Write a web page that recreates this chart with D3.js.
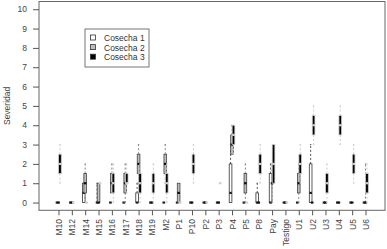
<!DOCTYPE html>
<html><head><meta charset="utf-8">
<script src="https://cdn.jsdelivr.net/npm/d3@7"></script>
<style>body{margin:0;background:#fff}svg{display:block}text{font-family:"Liberation Sans",Arial,sans-serif}</style>
</head><body>
<script>
const categories = ["M10","M12","M14","M15","M16","M17","M18","M19","M2","P1","P10","P2","P3","P4","P5","P8","Pay","Testigo","U1","U2","U3","U4","U5","U6"];
const seriesNames = ["Cosecha 1","Cosecha 2","Cosecha 3"];
const yTicks = [0,1,2,3,4,5,6,7,8,9,10];
// [min, q1, median, q3, max]
const cosecha1 = [
 [0,0,0,0,0],[0,0,0,0,0],[0,0,0.5,1,1],[0,0,0,0,1],[0,0,0,0,0],[0,0,0,0,0],
 [0,0,0,0.5,1],[0,0,0,0,0],[0,0,0,0,0],[0,0,0,0,0],[0,0,0,0,0],[0,0,0,0,0],
 [0,0,0,0,0],[0,0,0.5,2,3],[0,0,0,0,0],[0,0,0,0.5,1],[0,0,0,1.5,2],[0,0,0,0,0],
 [0,0,0,0,0],[0,0,0.5,2,3],[0,0,0,0,0],[0,0,0,0,0],[0,0,0,0,0],[0,0,0,0,0]
];
const cosecha2 = [
 [0,0,0,0,0],[0,0,0,0,0],[0,0.5,1,1.5,2],[0,0,0,1,1],[0.5,0.5,1,1.5,2],[0,0.5,1,1.5,2],
 [1,1.5,2,2.5,3],[0,0,0,0,0],[1,1.5,2,2.5,3],[0,0,0.5,1,1],[0,0,0,0,0],[0,0,0,0,0],
 [0,0,0,0,0],[2.5,2.5,3,3.5,4],[0,0.5,1,1.5,2],[0,0,0,0,0],[0,1,1,1,2],[0,0,0,0,0],
 [0,0.5,1,1.5,2],[0,0,0,0,0],[0,0,0,0,0],[0,0,0,0,0],[0,0,0,0,0],[0,0,0,0,2]
];
const cosecha3 = [
 [1,1.5,2,2.5,3],[0,0,0,0,0],[0,0,0,0,0],[1,1,1,1,1],[0,0.5,1,1.5,2],[0.5,1,1,1.5,2],
 [0,0.5,1,1.5,2],[0,0.5,1,1.5,2],[0,0.5,1,1.5,2],[0,0,0,0,0],[1,1.5,2,2.5,3],[0,0,0,0,0],
 [1,1,1,1,1],[2.5,3,3.5,4,4],[0,0,0,0,0],[1,1.5,2,2.5,3],[1,1,2,3,3],[0,0,0,0,0],
 [1,1.5,2,2.5,3],[3,3.5,4,4.5,5],[0,0.5,1,1.5,2],[3,3.5,4,4.5,5],[1,1.5,2,2.5,3],[0,0.5,1,1.5,2]
];
const allSeries = [cosecha1, cosecha2, cosecha3];

const W = 387, H = 249;
const L = 39, R = 385, T = 1.5, B = 210.3;
const svg = d3.select("body").append("svg").attr("width", W).attr("height", H);

const x = d3.scaleLinear().domain([-0.46, 25.46]).range([L, R]);
const y = d3.scaleLinear().domain([-0.4, 10.4]).range([B, T]);

const styles = [
  {fill:"#ffffff", stroke:"#333333", whisk:"#555555", med:"#222222", off:-0.11},
  {fill:"#bdbdbd", stroke:"#444444", whisk:"#888888", med:"#111111", off:0},
  {fill:"#000000", stroke:"#cccccc", whisk:"#cccccc", med:"#cfcfcf", off:0.11}
];
const bw = 0.2; // box width in category units

// frame
svg.append("rect").attr("x", L).attr("y", T).attr("width", R - L).attr("height", B - T)
  .attr("fill", "none").attr("stroke", "#666").attr("stroke-width", 1);

// y axis
const ya = svg.append("g").attr("transform", `translate(${L},0)`)
  .call(d3.axisLeft(y).tickValues(yTicks).tickSize(6).tickPadding(6).tickFormat(d3.format("d")));
ya.select(".domain").remove();
ya.selectAll("line").attr("stroke", "#555");
ya.selectAll("text").attr("font-size", 8.5).attr("fill", "#444");

// x axis
const xa = svg.append("g").attr("transform", `translate(0,${B})`)
  .call(d3.axisBottom(x).tickValues(d3.range(1, categories.length + 1)).tickSize(5).tickFormat(""));
xa.select(".domain").remove();
xa.selectAll("line").attr("stroke", "#555");
svg.append("g").selectAll("text").data(categories).join("text")
  .attr("transform", (d, i) => `translate(${x(i + 1) + 0.5},219) rotate(-90)`)
  .attr("text-anchor", "end").attr("dy", "0.35em")
  .attr("font-size", 8.5).attr("fill", "#444").text(d => d);

// y title
svg.append("text").attr("transform", `translate(10,${(T + B) / 2}) rotate(-90)`)
  .attr("text-anchor", "middle").attr("font-size", 8.5).attr("fill", "#444").text("Severidad");

// boxes
allSeries.forEach((ser, s) => {
  const st = styles[s];
  const g = svg.append("g");
  ser.forEach((v, i) => {
    const cx = x(i + 1 + st.off);
    const hw = (x(bw) - x(0)) / 2;
    const [mn, q1, md, q3, mx] = v;
    if (q3 < mx) {
      g.append("line").attr("x1", cx).attr("x2", cx).attr("y1", y(q3)).attr("y2", y(mx))
        .attr("stroke", st.whisk).attr("stroke-dasharray", "2,2");
      g.append("line").attr("x1", cx - hw / 2).attr("x2", cx + hw / 2).attr("y1", y(mx)).attr("y2", y(mx))
        .attr("stroke", st.whisk);
    }
    if (mn < q1) {
      g.append("line").attr("x1", cx).attr("x2", cx).attr("y1", y(q1)).attr("y2", y(mn))
        .attr("stroke", st.whisk).attr("stroke-dasharray", "2,2");
      g.append("line").attr("x1", cx - hw / 2).attr("x2", cx + hw / 2).attr("y1", y(mn)).attr("y2", y(mn))
        .attr("stroke", st.whisk);
    }
    g.append("rect").attr("x", cx - hw).attr("y", y(q3)).attr("width", 2 * hw)
      .attr("height", Math.max(0, y(q1) - y(q3)))
      .attr("fill", st.fill).attr("stroke", st.stroke).attr("stroke-width", 0.8);
    g.append("line").attr("x1", cx - hw).attr("x2", cx + hw).attr("y1", y(md)).attr("y2", y(md))
      .attr("stroke", st.med).attr("stroke-width", 2.2);
  });
});

// legend
const lg = svg.append("g");
lg.append("rect").attr("x", 85).attr("y", 29).attr("width", 64).attr("height", 38)
  .attr("fill", "#fff").attr("stroke", "#777").attr("stroke-width", 1);
seriesNames.forEach((n, i) => {
  const yy = 38 + i * 9.6;
  lg.append("rect").attr("x", 90.5).attr("y", yy - 3).attr("width", 5).attr("height", 5)
    .attr("fill", styles[i].fill).attr("stroke", "#333").attr("stroke-width", 0.8);
  lg.append("text").attr("x", 104).attr("y", yy).attr("dy", "0.35em")
    .attr("font-size", 8.5).attr("fill", "#333").text(n);
});
</script>
</body></html>
